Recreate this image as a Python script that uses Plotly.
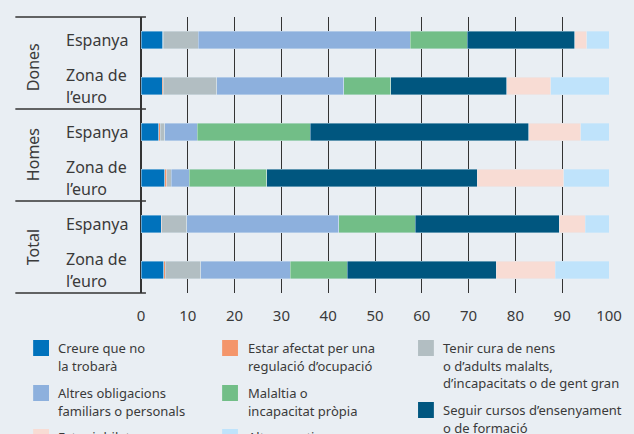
import plotly.graph_objects as go

# ---------------- data ----------------
groups = ["Dones", "Homes", "Total"]
subs = ["Espanya", "Zona de l’euro"]
row_keys = [f"{g} – {s}" for g in groups for s in subs]

series_names = [
    "Creure que no la trobarà",
    "Estar afectat per una regulació d’ocupació",
    "Tenir cura de nens o d’adults malalts, d’incapacitats o de gent gran",
    "Altres obligacions familiars o personals",
    "Malaltia o incapacitat pròpia",
    "Seguir cursos d’ensenyament o de formació",
    "Estar jubilat",
    "Altres motius",
]
creure = [4.6, 4.5, 3.8, 5.1, 4.3, 4.9]
afectat = [0.1, 0.3, 0.3, 0.4, 0.1, 0.3]
tenir_cura = [7.5, 11.4, 1.0, 1.0, 5.4, 7.6]
altres_oblig = [45.3, 27.1, 6.9, 3.8, 32.5, 19.1]
malaltia = [12.2, 10.1, 24.2, 16.6, 16.3, 12.2]
seguir = [23.0, 24.8, 46.6, 45.0, 30.8, 31.8]
jubilat = [2.5, 9.4, 11.2, 18.4, 5.5, 12.6]
altres_motius = [4.8, 12.4, 6.0, 9.7, 5.1, 11.5]
series_values = [creure, afectat, tenir_cura, altres_oblig, malaltia, seguir, jubilat, altres_motius]

x_ticks = [0, 10, 20, 30, 40, 50, 60, 70, 80, 90, 100]

# legend text (line-broken as in the reference)
legend_lines = [
    ["Creure que no", "la trobarà"],
    ["Estar afectat per una", "regulació d’ocupació"],
    ["Tenir cura de nens", "o d’adults malalts,", "d’incapacitats o de gent gran"],
    ["Altres obligacions", "familiars o personals"],
    ["Malaltia o", "incapacitat pròpia"],
    ["Seguir cursos d’ensenyament", "o de formació"],
    ["Estar jubilat"],
    ["Altres motius"],
]

# ---------------- style ----------------
colors = ["#0072BC", "#F4956A", "#B2BEC2", "#8DB0DD", "#72BE87", "#00567F", "#F8DCD4", "#BFE3FB"]
BG = "#E9EEF3"
TXT = "#3a3a3a"
FONT = "Noto Sans"
W_FIG, H_FIG = 634, 434
L, R, T, B = 141, 614, 17, 293


def px_x(px):
    return (px - L) / (R - L)


def px_y(py):
    return (B - py) / (B - T)


fig = go.Figure()
for name, vals, col in zip(series_names, series_values, colors):
    fig.add_trace(go.Bar(
        y=row_keys, x=vals, name=name, orientation="h",
        marker=dict(color=col, line=dict(color="rgba(225,235,245,0.7)", width=0.6)),
        showlegend=False, hoverinfo="x+name",
    ))

annotations = []
shapes = []

# row labels
row_h = (B - T) / len(row_keys)
for i, key in enumerate(row_keys):
    cy = T + row_h * (i + 0.5)
    sub = subs[i % 2]
    if sub == "Espanya":
        lines = [(sub, cy)]
    else:
        lines = [("Zona de", cy - 11), ("l’euro", cy + 11)]
    for txt, y in lines:
        annotations.append(dict(text=txt, xref="paper", yref="paper", x=px_x(63), y=px_y(y),
                                xanchor="left", yanchor="middle", showarrow=False,
                                font=dict(family=FONT, size=16, color=TXT)))

# group labels
group_cy = [67, 155, 247]
for g, cy in zip(groups, group_cy):
    annotations.append(dict(text=g, xref="paper", yref="paper", x=px_x(32), y=px_y(cy),
                            xanchor="center", yanchor="middle", textangle=-90, showarrow=False,
                            font=dict(family=FONT, size=16, color=TXT)))

# horizontal separators
for k in range(len(groups) + 1):
    yy = T + k * 2 * row_h
    shapes.append(dict(type="line", xref="paper", yref="paper", x0=px_x(14), x1=px_x(146),
                       y0=px_y(yy), y1=px_y(yy), line=dict(color="#333333", width=1.5)))

# manual legend
col_sq_x = [32, 223, 421]
col_tx_x = [55, 247, 444]
legend_pos = [  # (column, square top)
    (0, 340), (1, 340), (2, 340),
    (0, 385), (1, 385), (2, 402),
    (0, 429), (1, 429),
]
for (c, top), lines, col in zip(legend_pos, legend_lines, colors):
    shapes.append(dict(type="rect", xref="paper", yref="paper",
                       x0=px_x(col_sq_x[c]), x1=px_x(col_sq_x[c] + 16),
                       y0=px_y(top), y1=px_y(top + 16), fillcolor=col, line=dict(width=0)))
    for j, ln in enumerate(lines):
        annotations.append(dict(text=ln, xref="paper", yref="paper", x=px_x(col_tx_x[c]),
                                y=px_y(top + 8 + 17.5 * j), xanchor="left", yanchor="middle",
                                showarrow=False, font=dict(family=FONT, size=13, color=TXT)))

fig.update_layout(
    width=W_FIG, height=H_FIG,
    margin=dict(l=L, r=W_FIG - R, t=T, b=H_FIG - B, pad=0),
    paper_bgcolor=BG, plot_bgcolor=BG,
    barmode="stack", bargap=0.61,
    font=dict(family=FONT, color=TXT),
    annotations=annotations, shapes=shapes,
    showlegend=False,
)
fig.update_xaxes(range=[0, 100], tickvals=x_ticks, showgrid=True, gridcolor="#333333", gridwidth=1,
                 zeroline=True, zerolinecolor="#333333", zerolinewidth=1.5, showline=False,
                 ticks="", ticklabelstandoff=12,
                 tickfont=dict(family=FONT, size=15, color=TXT), fixedrange=True)
fig.update_yaxes(categoryorder="array", categoryarray=row_keys, autorange="reversed",
                 showticklabels=False, showgrid=False, zeroline=False, ticks="", fixedrange=True)

fig.write_html("out.html", config={"displayModeBar": False},
               post_script="document.body.style.margin='0';document.body.style.overflow='hidden';")
